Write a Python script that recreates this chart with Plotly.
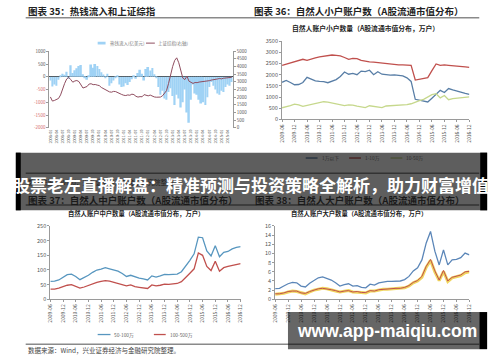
import plotly.graph_objects as go
import pandas as pd

W, H = 500, 362

# ---------------- Panel 1: hot money inflow & Shanghai Composite ----------------
hot_money = [-150, -380, -300, -350, -120, 60, 120, 80, 200, -80,
             450, 150, 260, 330, 420, 460, 100, -60, -120, 60,
             480, 350, 500, 420, 300, 180, 90, -50, 120, -350,
             -250, -150, -60, 60, -300, -400, -380, -250, -320, -200,
             -100, 40, -80, 150, 280, 120, -150, 300, 380, 250,
             340, 100, -60, -400, -700, -550, -850, -900, -600, -450,
             -750, -1100, -700, -850, -1200, -1000, -500, -1400, -1800, -900,
             -300, -650, -700, -900, -1050, -1000, -1100, -800, -400, -200,
             -350, -500, -650, -700, -550, -600, -400, -300, -350, -200]
sh_index = [2020, 1750, 1790, 1880, 1920, 2150, 2550, 2900, 3190, 3290,
            3150, 2980, 3060, 3090, 3020, 2800, 2600, 2650, 2700, 2860,
            2880, 2820, 2830, 2790, 2760, 2640, 2560, 2510, 2430, 2350,
            2330, 2380, 2370, 2290, 2230, 2180, 2130, 2110, 2150, 2130,
            2200, 2170, 2060, 2010, 2040, 2030, 2170, 2150, 2090, 2140,
            2060, 2020, 2000, 1990, 2010, 2090, 2230, 2430, 2900, 3500,
            4000, 4400, 4570, 4250, 3650, 3250, 3150, 3380, 3050, 2950,
            2900, 2960, 2950, 2990, 3000, 3040, 3020, 3060, 3080, 3120,
            3130, 3150, 3190, 3220, 3200, 3240, 3250, 3280, 3260, 3300]
p1_dates = pd.date_range("2008-01-01", periods=len(hot_money), freq="MS").strftime("%Y-%m").tolist()
p1_left_ticks = [1000, 500, 0, -500, -1000, -1500, -2000]
p1_right_ticks = list(range(0, 5001, 500))

# ---------------- Panels 2-4: account counts (万户) ----------------
p_dates = pd.date_range("2009-06-01", periods=46, freq="2MS").strftime("%Y-%m").tolist()

small_below_1w = [1660, 1740, 1650, 1550, 1560, 1650, 1880, 1800, 1720, 1700,
                  1690, 1640, 1720, 1780, 1920, 2120, 2020, 2060, 2000, 2160,
                  2140, 2200, 2000, 2130, 2020, 1990, 1980, 1990, 1970, 1950,
                  1860, 1700, 900, 860, 820, 780, 950, 1150, 1300, 1200,
                  1380, 1320, 1260, 1220, 1160, 1120]
small_1_10w = [2420, 2480, 2540, 2600, 2650, 2690, 2640, 2680, 2750, 2800,
               2830, 2870, 2880, 2860, 2840, 2770, 2690, 2730, 2720, 2640,
               2600, 2570, 2560, 2540, 2500, 2470, 2480, 2460, 2440, 2440,
               2430, 2420, 1760, 1800, 1820, 1870, 2180, 2480, 2420, 2440,
               2420, 2410, 2390, 2360, 2350, 2330]
small_10_50w = [520, 560, 620, 680, 650, 580, 620, 690, 730, 760,
                790, 770, 740, 710, 680, 620, 650, 640, 590, 560,
                530, 610, 580, 560, 530, 600, 610, 620, 610, 630,
                660, 700, 780, 840, 900, 1000, 1110, 1150, 960, 1070,
                880, 930, 950, 970, 990, 1010]

mid_50_100w = [61, 62, 66, 76, 84, 86, 78, 67, 74, 82,
               92, 100, 103, 108, 104, 100, 96, 88, 78, 82,
               76, 72, 70, 66, 80, 76, 80, 85, 84, 86,
               86, 94, 112, 133, 155, 212, 210, 165, 148, 183,
               145, 160, 163, 172, 177, 180]
mid_100_500w = [35, 35, 38, 44, 48, 50, 45, 38, 42, 48,
                54, 58, 61, 64, 62, 58, 56, 52, 46, 49,
                43, 41, 40, 37, 49, 46, 48, 52, 51, 52,
                54, 60, 76, 89, 104, 158, 150, 112, 98, 130,
                96, 108, 112, 116, 120, 122]

big_500_1000w = [2.35, 2.4, 2.9, 3.4, 3.7, 3.6, 2.9, 2.7, 3.5, 4.2,
                 4.7, 4.9, 4.6, 4.2, 3.6, 2.9, 3.2, 3.4, 2.9, 3.0,
                 2.6, 2.5, 3.3, 3.1, 3.6, 3.8, 3.9, 3.9, 4.0, 4.0,
                 4.3, 5.0, 6.2, 6.9, 8.6, 12.3, 14.8, 10.5, 7.5, 10.8,
                 7.5, 8.6, 8.7, 9.1, 10.1, 9.7]
big_1000_5000w = [1.2, 1.2, 1.4, 1.7, 1.8, 1.8, 1.4, 1.3, 1.7, 2.0,
                  2.3, 2.4, 2.3, 2.1, 1.9, 1.6, 1.8, 1.9, 1.6, 1.7,
                  1.5, 1.5, 1.9, 1.8, 2.1, 2.2, 2.3, 2.3, 2.4, 2.4,
                  2.6, 3.0, 3.7, 4.1, 5.0, 7.2, 8.7, 6.2, 4.2, 6.3,
                  4.0, 4.8, 5.0, 5.3, 6.0, 6.1]
big_above_5000w = [1.1, 1.2, 1.3, 1.6, 1.8, 1.7, 1.4, 1.2, 1.6, 2.0,
                   2.2, 2.4, 2.3, 2.0, 1.8, 1.6, 1.7, 1.9, 1.6, 1.6,
                   1.5, 1.4, 1.8, 1.8, 2.0, 2.2, 2.2, 2.3, 2.3, 2.4,
                   2.5, 2.9, 3.6, 4.0, 4.8, 7.0, 8.5, 6.0, 4.1, 6.1,
                   3.9, 4.7, 4.9, 5.2, 5.8, 6.0]

# ---------------- helpers ----------------
def px(x):
    return x / W


def py(y):
    return 1 - y / H


CJK = "Noto Sans CJK SC, Liberation Sans, sans-serif"
AX = "#9a9a9a"
TXT = "#555555"

idx1 = list(range(len(hot_money)))
idx = list(range(len(p_dates)))

fig = go.Figure()
fig.add_trace(go.Bar(x=idx1, y=hot_money, marker=dict(color="#9fd2f5", line=dict(width=0)),
                     width=0.85, xaxis="x", yaxis="y", name="热钱流入(亿美元)"))
fig.add_trace(go.Scatter(x=idx1, y=sh_index, mode="lines", line=dict(color="#8f4d5f", width=1),
                         xaxis="x", yaxis="y2", name="上证综指(右轴)"))

fig.add_trace(go.Scatter(x=idx, y=small_below_1w, mode="lines", line=dict(color="#587ea6", width=1.3),
                         xaxis="x2", yaxis="y3", name="1万以下"))
fig.add_trace(go.Scatter(x=idx, y=small_1_10w, mode="lines", line=dict(color="#c0504d", width=1.3),
                         xaxis="x2", yaxis="y3", name="1-10万"))
fig.add_trace(go.Scatter(x=idx, y=small_10_50w, mode="lines", line=dict(color="#c6d88c", width=1.3),
                         xaxis="x2", yaxis="y3", name="10-50万"))

fig.add_trace(go.Scatter(x=idx, y=mid_50_100w, mode="lines", line=dict(color="#5796bf", width=1.3),
                         xaxis="x3", yaxis="y4", name="50-100万"))
fig.add_trace(go.Scatter(x=idx, y=mid_100_500w, mode="lines", line=dict(color="#c0504d", width=1.3),
                         xaxis="x3", yaxis="y4", name="100-500万"))

fig.add_trace(go.Scatter(x=idx, y=big_500_1000w, mode="lines", line=dict(color="#5b86b8", width=1.3),
                         xaxis="x4", yaxis="y5", name="500-1000万"))
fig.add_trace(go.Scatter(x=idx, y=big_above_5000w, mode="lines", line=dict(color="#f0d55e", width=3),
                         xaxis="x4", yaxis="y5", name="5000万以上"))
fig.add_trace(go.Scatter(x=idx, y=big_1000_5000w, mode="lines", line=dict(color="#c0504d", width=1),
                         xaxis="x4", yaxis="y5", name="1000-5000万"))


def xax(domain, anchor, ticktexts, tickvals, rng, size, showline=True):
    return dict(domain=domain, anchor=anchor, range=rng, tickmode="array", tickvals=tickvals,
                ticktext=ticktexts, tickangle=-90, tickfont=dict(size=size, color=TXT),
                showline=showline, linecolor=AX, linewidth=1, ticks="outside" if showline else "",
                ticklen=2, tickcolor=AX, showgrid=False, zeroline=False, fixedrange=True)


def yax(domain, anchor, rng, dtick, size=5.5):
    return dict(domain=domain, anchor=anchor, range=rng, dtick=dtick, tick0=0,
                tickfont=dict(size=size, color=TXT), showline=True, linecolor=AX, linewidth=1,
                ticks="outside", ticklen=2, tickcolor=AX, showgrid=False, zeroline=False)


tv1 = list(range(0, len(hot_money), 3))
tv = list(range(0, len(p_dates), 3))

left_text = [("<span style='color:#d46a6a'>%d</span>" % v) if v < 0 else str(v) for v in p1_left_ticks]

layout = dict(
    width=W, height=H, margin=dict(l=0, r=0, t=0, b=0),
    paper_bgcolor="white", plot_bgcolor="white", showlegend=False,
    font=dict(family=CJK, color=TXT), bargap=0.1,
    xaxis=xax([px(46), px(232)], "y", [p1_dates[i] for i in tv1], tv1, [-0.5, len(hot_money) - 0.5], 3.8,
              showline=False),
    yaxis=dict(domain=[py(126.7), py(48.3)], anchor="x", range=[-2000, 1000], tickmode="array",
               tickvals=p1_left_ticks, ticktext=left_text, tickfont=dict(size=4.5, color=TXT),
               showline=True, linecolor=AX, ticks="outside", ticklen=2, tickcolor=AX, showgrid=False,
               zeroline=True, zerolinecolor="#3a3a3a", zerolinewidth=1.2),
    yaxis2=dict(overlaying="y", side="right", anchor="x", range=[0, 5000], tickmode="array",
                tickvals=p1_right_ticks, tickfont=dict(size=4.5, color=TXT), showline=True,
                linecolor=AX, ticks="outside", ticklen=2, tickcolor=AX, showgrid=False, zeroline=False),
    xaxis2=xax([px(282), px(472)], "y3", [p_dates[i] for i in tv], tv, [0, len(p_dates) - 1], 5),
    yaxis3=yax([py(118), py(38)], "x2", [0, 3500], 500),
    xaxis3=xax([px(47), px(240)], "y4", [p_dates[i] for i in tv], tv, [0, len(p_dates) - 1], 5),
    yaxis4=yax([py(302), py(227)], "x3", [0, 250], 50),
    xaxis4=xax([px(275), px(472)], "y5", [p_dates[i] for i in tv], tv, [0, len(p_dates) - 1], 5),
    yaxis5=yax([py(302), py(227)], "x4", [0, 16], 2),
)
fig.update_layout(**layout)

ann = []


def text(x, y, s, size, color="#222", anchor="left", bold=False, family=CJK):
    ann.append(dict(x=px(x), y=py(y), xref="paper", yref="paper", text=("<b>%s</b>" % s) if bold else s,
                    showarrow=False, xanchor=anchor, yanchor="middle",
                    font=dict(size=size, color=color, family=family)))


# headers
text(22, 7, "图表 35：热钱流入和上证综指", 9.5, "#222", bold=True)
text(252, 7.5, "图表 36：自然人小户账户数（A股流通市值分布）", 9.5, "#222", bold=True)
text(367, 25, "自然人账户小户数量（A股流通市值分布，万户）", 6.8, "#222", anchor="center", bold=True)

# panel 1 legend
text(105, 40, "热钱流入(亿美元)", 4.5, "#777")
text(154, 40, "上证综指(右轴)", 4.5, "#777")
# panel 2 legend (under overlay)
text(320, 157.5, "1万以下", 4.8, "#2e2e2e")
text(364, 157.5, "1-10万", 4.8, "#2e2e2e")
text(406, 157.5, "10-50万", 4.8, "#2e2e2e")
# texts behind the overlay
text(22, 182, "数据来源：Wind，兴业证券经济与金融研究院整理。", 6.5, "#1e1e1e")
text(22, 200, "图表 37：自然人中户账户数（A股流通市值分布）", 9.5, "#1a1a1a", bold=True)
text(253, 200, "图表 38：自然人大户账户数（A股流通市值分布）", 9.5, "#1a1a1a", bold=True)
# banner
text(251, 185, "股票老左直播解盘：精准预测与投资策略全解析，助力财富增值", 17, "white", anchor="center", bold=True)
# panel 3/4 titles
text(134, 214.5, "自然人账户中户数量（A股流通市值分布，万户）", 6.3, "#222", anchor="center", bold=True)
text(360, 214.5, "自然人账户大户数量（A股流通市值分布，万户）", 6.3, "#222", anchor="center", bold=True)
# panel 3 legend
text(110, 338, "50-100万", 4.8, "#666")
text(166, 338, "100-500万", 4.8, "#666")
# source
text(22, 354, "数据来源：Wind，兴业证券经济与金融研究院整理。", 6.5, "#444")
# watermark
text(388, 334, "www.app-maiqiu.com", 17.5, "white", anchor="center", bold=True,
     family="Liberation Sans, Arial, sans-serif")

shapes = []


def line(x0, y0, x1, y1, color, width):
    shapes.append(dict(type="line", xref="paper", yref="paper", x0=px(x0), y0=py(y0), x1=px(x1), y1=py(y1),
                       line=dict(color=color, width=width), layer="above"))


def rect(x0, y0, x1, y1, fill):
    shapes.append(dict(type="rect", xref="paper", yref="paper", x0=px(x0), y0=py(y0), x1=px(x1), y1=py(y1),
                       fillcolor=fill, line=dict(width=0), layer="above"))


line(22, 14, 482, 14, "#8a8a8a", 1.5)
rect(95, 38.6, 103, 41.4, "#9fd2f5")
line(144, 40, 153, 40, "#8f4d5f", 1)
line(306, 157.5, 318, 157.5, "#587ea6", 1.3)
line(350, 157.5, 362, 157.5, "#c0504d", 1.3)
line(392, 157.5, 404, 157.5, "#c6d88c", 1.3)
line(22, 173, 482, 173, "#8a8a8a", 1.5)
line(22, 205.5, 482, 205.5, "#8a8a8a", 1.5)
line(95, 338, 108, 338, "#5796bf", 1.3)
line(152, 338, 164, 338, "#c0504d", 1.3)
# banner overlay
rect(12, 152, 490, 211, "rgba(0,0,0,0.63)")
rect(12, 152, 17, 211, "black")
rect(483, 152, 490, 211, "black")
# bottom rule
line(22, 348, 482, 348, "#8a8a8a", 1.5)
# watermark box
rect(288, 315, 482, 353, "rgba(0,0,0,0.6)")
rect(482, 315, 490, 353, "black")

fig.update_layout(annotations=ann, shapes=shapes)
fig.write_html("out.html")
